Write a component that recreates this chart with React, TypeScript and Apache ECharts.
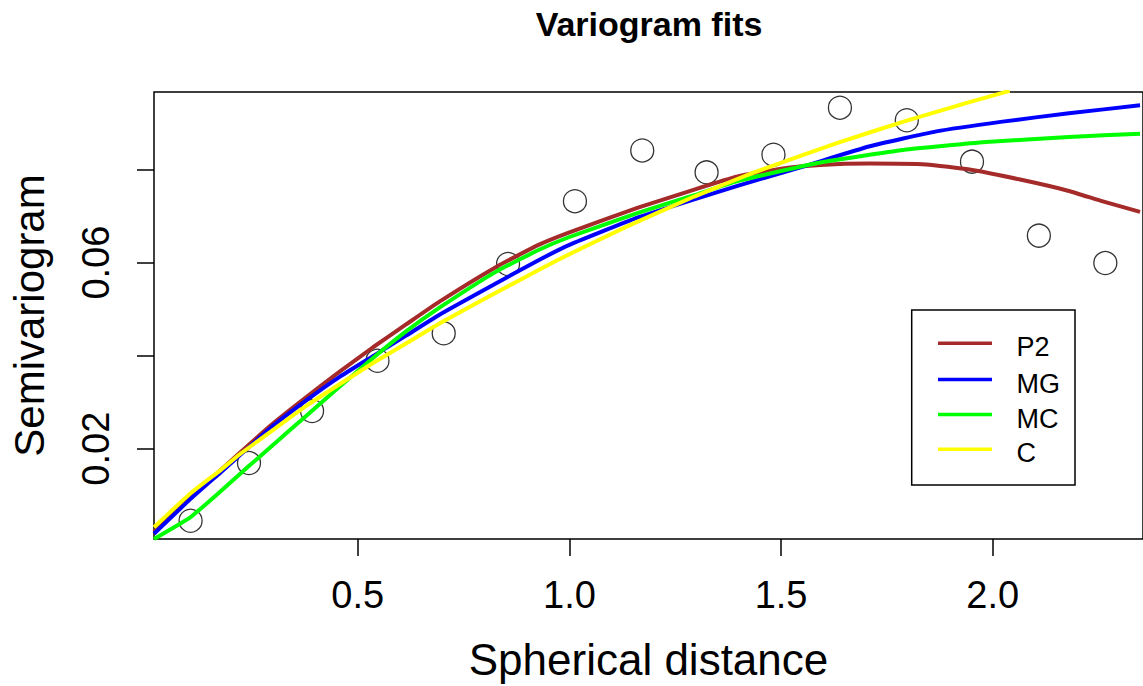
import React, { useEffect, useRef } from "react";
import * as echarts from "echarts";

// Empirical variogram points
const pointX = [0.105, 0.243, 0.392, 0.5465, 0.703, 0.855, 1.013, 1.172, 1.324, 1.482, 1.639, 1.797, 1.951, 2.109, 2.266];
const pointY = [0.0045, 0.0169, 0.0281, 0.0389, 0.0448, 0.0597, 0.0732, 0.0841, 0.0794, 0.0832, 0.0933, 0.0906, 0.0817, 0.0658, 0.0599];

// Fitted curves
const p2X = [0.0186, 0.105, 0.215, 0.301, 0.38, 0.458, 0.536, 0.614, 0.693, 0.826, 0.927, 1.0, 1.162, 1.295, 1.397, 1.5, 1.593, 1.71, 1.843, 1.945, 2.062, 2.18, 2.258, 2.348];
const p2Y = [0.0021, 0.0095, 0.0186, 0.0255, 0.0312, 0.0366, 0.0418, 0.0467, 0.0516, 0.059, 0.0638, 0.0665, 0.0718, 0.0757, 0.0785, 0.0802, 0.081, 0.0813, 0.0811, 0.08, 0.0779, 0.0754, 0.0732, 0.0709];

const mgX = [0.0186, 0.105, 0.176, 0.301, 0.38, 0.458, 0.536, 0.614, 0.693, 0.826, 0.927, 1.0, 1.162, 1.295, 1.397, 1.554, 1.71, 1.867, 2.023, 2.18, 2.348];
const mgY = [0.0017, 0.0092, 0.0149, 0.025, 0.0305, 0.0355, 0.0399, 0.0443, 0.0488, 0.0555, 0.0605, 0.0638, 0.0697, 0.0736, 0.0765, 0.0807, 0.085, 0.0882, 0.0903, 0.0921, 0.0938];

const mcX = [0.0186, 0.105, 0.184, 0.242, 0.301, 0.38, 0.458, 0.536, 0.614, 0.693, 0.826, 0.927, 1.0, 1.162, 1.295, 1.397, 1.593, 1.789, 1.984, 2.18, 2.348];
const mcY = [0.0006, 0.0053, 0.0115, 0.0162, 0.0209, 0.0272, 0.0334, 0.0395, 0.0452, 0.0503, 0.058, 0.0627, 0.0655, 0.0707, 0.0745, 0.0775, 0.0815, 0.0842, 0.0859, 0.087, 0.0877];

const cX = [0.0186, 0.105, 0.176, 0.223, 0.301, 0.38, 0.458, 0.536, 0.614, 0.693, 0.826, 0.927, 0.982, 1.139, 1.295, 1.42, 1.483, 1.632, 1.797, 1.945, 2.04];
const cY = [0.0031, 0.0104, 0.0154, 0.0189, 0.0241, 0.0293, 0.0339, 0.0384, 0.0426, 0.0469, 0.0535, 0.0584, 0.061, 0.0679, 0.0742, 0.0788, 0.0809, 0.0857, 0.0905, 0.0945, 0.0969];

const seriesNames = ["P2", "MG", "MC", "C"];
const seriesColors = ["#A52A2A", "#0000FF", "#00FF00", "#FFFF00"];

const xTicks = [0.5, 1.0, 1.5, 2.0];
const xTickLabels = ["0.5", "1.0", "1.5", "2.0"];
const yTicks = [0.02, 0.04, 0.06, 0.08];
const yLabelTicks = [0.02, 0.06];
const yTickLabels = ["0.02", "0.06"];

const FONT = "'Liberation Sans', Arial, sans-serif";

const zip = (xs: number[], ys: number[]) => xs.map((x, i) => [x, ys[i]]);

export default function App() {
  const ref = useRef<HTMLDivElement>(null);
  useEffect(() => {
    if (!ref.current) return;
    const chart = echarts.init(ref.current, null, { renderer: "svg" });
    const curves = [zip(p2X, p2Y), zip(mgX, mgY), zip(mcX, mcY), zip(cX, cY)];

    const legendX = 911.7, legendY = 310, legendW = 163.3, legendH = 175;
    const legendRows = [343.3, 379.5, 414.5, 449.3];
    const legendGraphics: any[] = [
      {
        type: "rect",
        shape: { x: legendX, y: legendY, width: legendW, height: legendH },
        style: { fill: "none", stroke: "#000", lineWidth: 1.5 },
        z: 100,
      },
    ];
    seriesNames.forEach((name, i) => {
      legendGraphics.push({
        type: "line",
        shape: { x1: 938, y1: legendRows[i], x2: 992, y2: legendRows[i] },
        style: { stroke: seriesColors[i], lineWidth: 3.5 },
        z: 100,
      });
      legendGraphics.push({
        type: "text",
        x: 1016.5,
        y: legendRows[i] + 4,
        style: {
          text: name,
          font: `27px ${FONT}`,
          fill: "#000",
          textAlign: "left",
          textVerticalAlign: "middle",
        },
        z: 100,
      });
    });

    chart.setOption({
      animation: false,
      backgroundColor: "#fff",
      title: {
        text: "Variogram fits",
        left: 649,
        top: 7,
        padding: 0,
        textAlign: "center",
        textStyle: { fontSize: 34, fontWeight: "bold", color: "#000", fontFamily: FONT },
      },
      grid: {
        left: 153,
        top: 92,
        right: -3,
        bottom: 144,
        show: true,
        borderColor: "#000",
        borderWidth: 1.5,
        backgroundColor: "transparent",
        containLabel: false,
      },
      xAxis: {
        type: "value",
        min: 0.0186,
        max: 2.355,
        axisLine: { show: false },
        splitLine: { show: false },
        axisTick: {
          show: true,
          customValues: xTicks,
          length: 17,
          lineStyle: { color: "#000", width: 1.5 },
        },
        axisLabel: {
          customValues: xTicks,
          formatter: (v: number) => {
            const i = xTicks.findIndex((t) => Math.abs(t - v) < 1e-9);
            return i >= 0 ? xTickLabels[i] : "";
          },
          fontSize: 38,
          color: "#000",
          fontFamily: FONT,
          margin: 37,
        },
        name: "Spherical distance",
        nameLocation: "middle",
        nameGap: 98,
        nameTextStyle: { fontSize: 44, color: "#000", fontFamily: FONT },
      },
      yAxis: {
        type: "value",
        min: 0.00058,
        max: 0.09667,
        axisLine: { show: false },
        splitLine: { show: false },
        axisTick: {
          show: true,
          customValues: yTicks,
          length: 17,
          lineStyle: { color: "#000", width: 1.5 },
        },
        axisLabel: {
          customValues: yLabelTicks,
          rotate: 90,
          formatter: (v: number) => {
            const i = yLabelTicks.findIndex((t) => Math.abs(t - v) < 1e-9);
            return i >= 0 ? yTickLabels[i] : "";
          },
          fontSize: 38,
          color: "#000",
          fontFamily: FONT,
          margin: 39,
        },
        name: "Semivariogram",
        nameLocation: "middle",
        nameGap: 104,
        nameTextStyle: { fontSize: 42, color: "#000", fontFamily: FONT },
      },
      series: [
        {
          type: "scatter",
          name: "points",
          data: zip(pointX, pointY),
          symbol: "circle",
          symbolSize: 23,
          itemStyle: { color: "rgba(0,0,0,0)", borderColor: "#000", borderWidth: 1.3 },
          emphasis: { disabled: true },
          silent: true,
        },
        ...curves.map((d, i) => ({
          type: "line",
          name: seriesNames[i],
          data: d,
          showSymbol: false,
          smooth: 0.15,
          clip: true,
          lineStyle: { color: seriesColors[i], width: 4, join: "round" },
          itemStyle: { color: seriesColors[i] },
          emphasis: { disabled: true },
          silent: true,
        })),
      ],
      graphic: legendGraphics,
    });
    return () => chart.dispose();
  }, []);
  return (
    <div
      ref={ref}
      style={{ position: "fixed", left: 0, top: 0, width: 1143, height: 686, overflow: "hidden" }}
    />
  );
}
